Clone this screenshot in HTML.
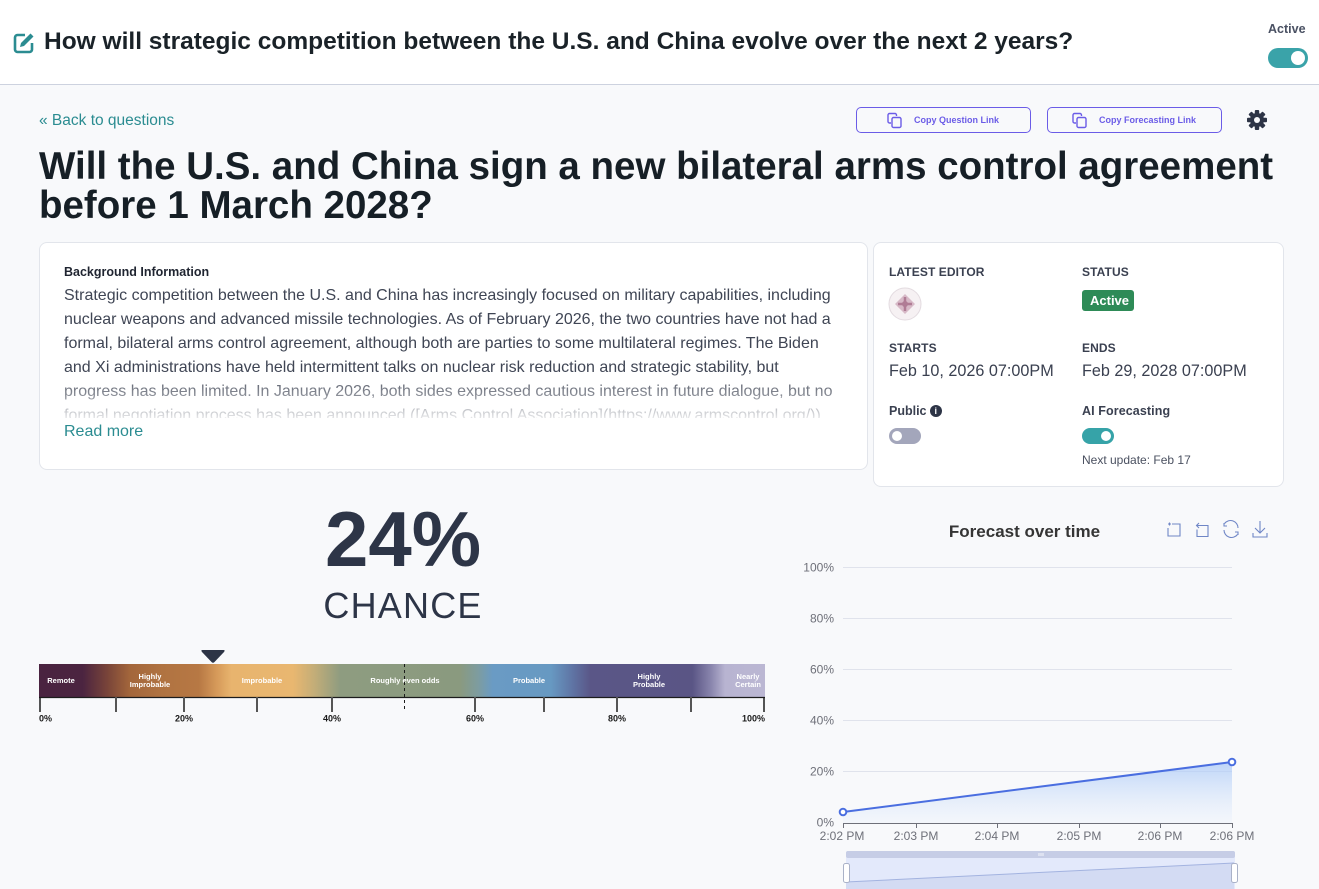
<!DOCTYPE html>
<html><head><meta charset="utf-8">
<style>
*{margin:0;padding:0;box-sizing:border-box}
html,body{width:1319px;height:889px;overflow:hidden;background:#f8f9fb;font-family:"Liberation Sans",Arial,sans-serif}
.abs{position:absolute;white-space:nowrap;line-height:1}
#hdr{position:absolute;left:0;top:0;width:1319px;height:85px;background:#fff;border-bottom:1px solid #cdd2df}
.card{position:absolute;background:#fff;border:1px solid #e2e5eb;border-radius:8px}
.btn{position:absolute;border:1px solid #6b5ce7;border-radius:5px;height:26px;top:107px}
.btn span{position:absolute;top:8px;font-size:9px;font-weight:bold;color:#6b5ce7;line-height:1}
.lbl{font-size:12px;font-weight:bold;color:#3a4050;letter-spacing:0.1px}
.date{font-size:16.2px;color:#3a4050}
.para div{height:24px;line-height:24px;font-size:16px;color:#3f4554;white-space:nowrap}
.bl{position:absolute;color:#fff;font-size:7.5px;font-weight:bold;text-align:center;line-height:8px;white-space:nowrap;transform:translateX(-50%)}
</style></head>
<body>
<div id="hdr"></div>
<!-- edit icon -->
<svg class="abs" style="left:12px;top:31px" width="24" height="24" viewBox="0 0 24 24">
  <path d="M13 4H5.5A2.5 2.5 0 0 0 3 6.5v12A2.5 2.5 0 0 0 5.5 21h12a2.5 2.5 0 0 0 2.5-2.5V12" fill="none" stroke="#2b8c91" stroke-width="2.6"/>
  <path d="M18.5 2.5l3 3L12 15l-4 1 1-4z" fill="#2b8c91"/>
</svg>
<div class="abs" style="left:44px;top:30px;font-size:24.5px;font-weight:bold;color:#1a2228">How will strategic competition between the U.S. and China evolve over the next 2 years?</div>
<div class="abs" style="left:1268px;top:23px;font-size:12.5px;font-weight:bold;color:#4a5163">Active</div>
<div class="abs" style="left:1268px;top:48px;width:40px;height:20px;border-radius:10px;background:#3aa3a9"></div>
<div class="abs" style="left:1291px;top:51px;width:14px;height:14px;border-radius:7px;background:#fff"></div>

<div class="abs" style="left:39px;top:113px;font-size:15.5px;color:#2b8c91">« Back to questions</div>

<div class="btn" style="left:856px;width:175px"><span style="left:57px">Copy Question Link</span></div>
<div class="btn" style="left:1047px;width:175px"><span style="left:51px">Copy Forecasting Link</span></div>
<svg class="abs" style="left:886px;top:112px" width="18" height="17" viewBox="0 0 18 17">
  <path d="M5 11H3.5A1.5 1.5 0 0 1 2 9.5V3A1.5 1.5 0 0 1 3.5 1.5H9A1.5 1.5 0 0 1 10.5 3v1" fill="none" stroke="#6b5ce7" stroke-width="1.4"/>
  <rect x="6" y="5.5" width="9" height="10" rx="1.5" fill="none" stroke="#6b5ce7" stroke-width="1.4"/>
</svg>
<svg class="abs" style="left:1071px;top:112px" width="18" height="17" viewBox="0 0 18 17">
  <path d="M5 11H3.5A1.5 1.5 0 0 1 2 9.5V3A1.5 1.5 0 0 1 3.5 1.5H9A1.5 1.5 0 0 1 10.5 3v1" fill="none" stroke="#6b5ce7" stroke-width="1.4"/>
  <rect x="6" y="5.5" width="9" height="10" rx="1.5" fill="none" stroke="#6b5ce7" stroke-width="1.4"/>
</svg>
<!-- gear -->
<svg class="abs" style="left:1246px;top:109px" width="22" height="22" viewBox="-11 -11 22 22">
  <g fill="#2d3446">
    <circle r="7"/>
    <rect x="-2.2" y="-10" width="4.4" height="20" rx="1"/>
    <rect x="-2.2" y="-10" width="4.4" height="20" rx="1" transform="rotate(45)"/>
    <rect x="-2.2" y="-10" width="4.4" height="20" rx="1" transform="rotate(90)"/>
    <rect x="-2.2" y="-10" width="4.4" height="20" rx="1" transform="rotate(135)"/>
  </g>
  <circle r="3" fill="#f8f9fb"/>
</svg>

<div class="abs" style="left:39px;top:147px;font-size:38.5px;line-height:39px;font-weight:bold;color:#161f26">Will the U.S. and China sign a new bilateral arms control agreement<br>before 1 March 2028?</div>

<!-- left card -->
<div class="card" style="left:39px;top:242px;width:829px;height:228px"></div>
<div class="abs" style="left:64px;top:266px;font-size:12.5px;font-weight:bold;color:#1f2430">Background Information</div>
<div class="para" style="position:absolute;left:64px;top:284px;width:790px;height:134px;overflow:hidden">
<div>Strategic competition between the U.S. and China has increasingly focused on military capabilities, including</div>
<div>nuclear weapons and advanced missile technologies. As of February 2026, the two countries have not had a</div>
<div>formal, bilateral arms control agreement, although both are parties to some multilateral regimes. The Biden</div>
<div>and Xi administrations have held intermittent talks on nuclear risk reduction and strategic stability, but</div>
<div>progress has been limited. In January 2026, both sides expressed cautious interest in future dialogue, but no</div>
<div>formal negotiation process has been announced ([Arms Control Association](https://www.armscontrol.org/))</div>
</div>
<div class="abs" style="left:60px;top:370px;width:800px;height:49px;background:linear-gradient(to bottom,rgba(255,255,255,0),rgba(255,255,255,0.38) 50%,rgba(255,255,255,0.88))"></div>
<div class="abs" style="left:64px;top:424px;font-size:16px;color:#2b8c91">Read more</div>

<!-- right card -->
<div class="card" style="left:873px;top:242px;width:411px;height:245px"></div>
<div class="abs lbl" style="left:889px;top:266px">LATEST EDITOR</div>
<div class="abs lbl" style="left:1082px;top:266px">STATUS</div>
<svg class="abs" style="left:888px;top:287px" width="34" height="34" viewBox="0 0 34 34">
  <circle cx="17" cy="17" r="16" fill="#f6f1f3" stroke="#e3dbe0" stroke-width="1"/>
  <path d="M17 7l5 5-5 5-5-5z M17 17l5 5-5 5-5-5z M7 17l5-5 5 5-5 5z M27 17l-5-5-5 5 5 5z" fill="#d7b9c7"/>
  <path d="M17 10v14M10 17h14" stroke="#b07c95" stroke-width="2.5"/>
  <circle cx="17" cy="17" r="3" fill="#b07c95"/>
</svg>
<div class="abs" style="left:1082px;top:290px;width:52px;height:21px;border-radius:3px;background:#2e8b57"></div>
<div class="abs" style="left:1090px;top:294px;font-size:13px;font-weight:bold;color:#fff">Active</div>
<div class="abs lbl" style="left:889px;top:342px">STARTS</div>
<div class="abs lbl" style="left:1082px;top:342px">ENDS</div>
<div class="abs date" style="left:889px;top:363px">Feb 10, 2026 07:00PM</div>
<div class="abs date" style="left:1082px;top:363px">Feb 29, 2028 07:00PM</div>
<div class="abs" style="left:889px;top:405px;font-size:12.5px;font-weight:bold;color:#3a4050">Public</div>
<div class="abs" style="left:930px;top:405px;width:12px;height:12px;border-radius:6px;background:#2d3446"></div>
<div class="abs" style="left:934.5px;top:406.5px;font-size:9px;font-weight:bold;color:#fff">i</div>
<div class="abs lbl" style="left:1082px;top:405px;font-size:12.5px">AI Forecasting</div>
<div class="abs" style="left:889px;top:428px;width:32px;height:16px;border-radius:8px;background:#a3a6bb"></div>
<div class="abs" style="left:892px;top:431px;width:10px;height:10px;border-radius:5px;background:#fff"></div>
<div class="abs" style="left:1082px;top:428px;width:32px;height:16px;border-radius:8px;background:#36a3a8"></div>
<div class="abs" style="left:1101px;top:431px;width:10px;height:10px;border-radius:5px;background:#fff"></div>
<div class="abs" style="left:1082px;top:454px;font-size:12px;color:#4a5060">Next update: Feb 17</div>

<!-- 24% CHANCE -->
<div class="abs" style="left:253px;width:300px;text-align:center;top:500px;font-size:78px;font-weight:bold;color:#2d3547">24%</div>
<div class="abs" style="left:253px;width:300px;text-align:center;top:588px;font-size:36px;letter-spacing:1.2px;color:#2d3547">CHANCE</div>

<!-- gradient bar -->
<div class="abs" style="left:39px;top:664px;width:726px;height:33px;background:linear-gradient(to right,#4a2340 0%,#4b2440 6%,#7a4539 9.5%,#a3663b 12.5%,#b07341 17%,#b77844 22%,#d69a5a 24.5%,#e8b46e 26.5%,#e9b770 35%,#c2ad78 38%,#8e9c80 41.5%,#8a9a7f 58%,#7d9ca0 60.5%,#6a9bc4 62.5%,#6799c2 70.5%,#5f74a4 73.5%,#5a5687 76%,#5a5585 90%,#8884ac 92.5%,#b8b4d1 94.5%,#bbb7d3 100%)"></div>
<div class="bl" style="left:61px;top:677px">Remote</div>
<div class="bl" style="left:150px;top:673px">Highly<br>Improbable</div>
<div class="bl" style="left:262px;top:677px">Improbable</div>
<div class="bl" style="left:405px;top:677px">Roughly even odds</div>
<div class="bl" style="left:529px;top:677px">Probable</div>
<div class="bl" style="left:649px;top:673px">Highly<br>Probable</div>
<div class="bl" style="left:748px;top:673px">Nearly<br>Certain</div>

<svg class="abs" style="left:0;top:0" width="1319" height="889" viewBox="0 0 1319 889">
  <!-- marker -->
  <path d="M202.5 650 Q200.5 650 202 652 L211.5 662 Q213 663.5 214.5 662 L224 652 Q225.5 650 223.5 650 Z" fill="#2d3446"/>
  <!-- bar axis -->
  <line x1="39" y1="697.5" x2="765" y2="697.5" stroke="#1c1c1c" stroke-width="1.2"/>
  <g stroke="#555" stroke-width="2">
    <line x1="40" y1="697" x2="40" y2="712" stroke="#1c1c1c" stroke-width="1.5"/>
    <line x1="116" y1="697" x2="116" y2="712"/>
    <line x1="184" y1="697" x2="184" y2="712"/>
    <line x1="257" y1="697" x2="257" y2="712"/>
    <line x1="332" y1="697" x2="332" y2="712"/>
    <line x1="475" y1="697" x2="475" y2="712"/>
    <line x1="544" y1="697" x2="544" y2="712"/>
    <line x1="617" y1="697" x2="617" y2="712"/>
    <line x1="691" y1="697" x2="691" y2="712"/>
    <line x1="764" y1="697" x2="764" y2="712" stroke="#1c1c1c" stroke-width="1.5"/>
  </g>
  <line x1="404.5" y1="664" x2="404.5" y2="712" stroke="#1c1c1c" stroke-width="1" stroke-dasharray="3,3"/>
  <g font-family="Liberation Sans, Arial, sans-serif" font-size="9" font-weight="bold" fill="#1a1a1a">
    <text x="39" y="721.5">0%</text>
    <text x="184" y="721.5" text-anchor="middle">20%</text>
    <text x="332" y="721.5" text-anchor="middle">40%</text>
    <text x="475" y="721.5" text-anchor="middle">60%</text>
    <text x="617" y="721.5" text-anchor="middle">80%</text>
    <text x="765" y="721.5" text-anchor="end">100%</text>
  </g>

  <!-- chart -->
  <text x="1024.5" y="537" text-anchor="middle" font-family="Liberation Sans, Arial, sans-serif" font-size="17" font-weight="bold" fill="#353535">Forecast over time</text>
  <g fill="none" stroke="#6f86c6" stroke-width="1.1">
    <path d="M1168 524h3M1169.5 522.5v3 M1172 524h8v12h-12v-8"/>
    <path d="M1199 523l-2.5 2.5 2.5 2.5 M1197 525.5h11v11h-11v-7"/>
    <path d="M1238 528a7.5 7.5 0 0 0-13.5-4.5 M1224 523v3h3 M1224 530a7.5 7.5 0 0 0 13.5 4.5 M1238 535v-3h-3"/>
    <path d="M1260 521v12 M1255 528l5 5 5-5 M1253 533v4h14v-4"/>
  </g>
  <g stroke="#e0e3ec" stroke-width="1">
    <line x1="843" y1="567.5" x2="1232" y2="567.5"/>
    <line x1="843" y1="618.5" x2="1232" y2="618.5"/>
    <line x1="843" y1="669.5" x2="1232" y2="669.5"/>
    <line x1="843" y1="720.5" x2="1232" y2="720.5"/>
    <line x1="843" y1="771.5" x2="1232" y2="771.5"/>
  </g>
  <g font-family="Liberation Sans, Arial, sans-serif" font-size="12" fill="#6e7079" text-anchor="end">
    <text x="834" y="571.5">100%</text>
    <text x="834" y="622.5">80%</text>
    <text x="834" y="673.5">60%</text>
    <text x="834" y="724.5">40%</text>
    <text x="834" y="775.5">20%</text>
    <text x="834" y="826.5">0%</text>
  </g>
  <defs>
    <linearGradient id="af" x1="0" y1="0" x2="0" y2="1">
      <stop offset="0" stop-color="#a9c8f7" stop-opacity="0.75"/>
      <stop offset="1" stop-color="#d8e6fb" stop-opacity="0.15"/>
    </linearGradient>
  </defs>
  <path d="M843 812 L1232 762 L1232 823 L843 823 Z" fill="url(#af)"/>
  <line x1="843" y1="823.5" x2="1232" y2="823.5" stroke="#6e7079" stroke-width="1"/>
  <g stroke="#6e7079" stroke-width="1">
    <line x1="843.5" y1="823" x2="843.5" y2="828"/>
    <line x1="916.5" y1="823" x2="916.5" y2="828"/>
    <line x1="997.5" y1="823" x2="997.5" y2="828"/>
    <line x1="1079.5" y1="823" x2="1079.5" y2="828"/>
    <line x1="1160.5" y1="823" x2="1160.5" y2="828"/>
    <line x1="1232.5" y1="823" x2="1232.5" y2="828"/>
  </g>
  <g font-family="Liberation Sans, Arial, sans-serif" font-size="12" fill="#6e7079" text-anchor="middle">
    <text x="842" y="840">2:02 PM</text>
    <text x="916" y="840">2:03 PM</text>
    <text x="997" y="840">2:04 PM</text>
    <text x="1079" y="840">2:05 PM</text>
    <text x="1160" y="840">2:06 PM</text>
    <text x="1232" y="840">2:06 PM</text>
  </g>
  <line x1="843" y1="812" x2="1232" y2="762" stroke="#4a6ee0" stroke-width="2"/>
  <circle cx="843" cy="812" r="3.3" fill="#fff" stroke="#4a6ee0" stroke-width="2"/>
  <circle cx="1232" cy="762" r="3.3" fill="#fff" stroke="#4a6ee0" stroke-width="2"/>

  <!-- data zoom -->
  <rect x="846" y="851" width="389" height="40" rx="2" fill="#e3e9fb"/>
  <rect x="846" y="851" width="389" height="7" rx="2" fill="#c6cde6"/>
  <path d="M846 882 L1234 863 L1234 889 L846 889 Z" fill="#d3dbf3"/>
  <path d="M846 882 L1234 863" stroke="#a3b3e0" stroke-width="1" fill="none"/>
  <g stroke="#fff" stroke-width="0.8"><line x1="1039" y1="853" x2="1039" y2="856"/><line x1="1041" y1="853" x2="1041" y2="856"/><line x1="1043" y1="853" x2="1043" y2="856"/></g>
  <rect x="843.5" y="863.5" width="6" height="19" rx="2" fill="#fff" stroke="#aab2c8" stroke-width="1"/>
  <rect x="1231.5" y="863.5" width="6" height="19" rx="2" fill="#fff" stroke="#aab2c8" stroke-width="1"/>
</svg>
</body></html>
